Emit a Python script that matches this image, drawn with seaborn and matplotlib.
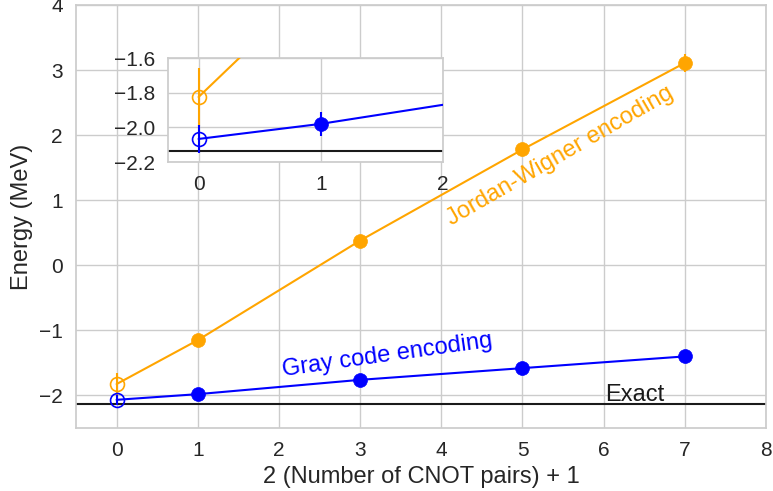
import matplotlib
matplotlib.use("Agg")
import matplotlib.pyplot as plt
import seaborn as sns
import numpy as np
import pandas as pd

x = [0, 1, 3, 5, 7]
jw_energy = [-1.825, -1.15, 0.38, 1.78, 3.11]
jw_err = [0.17, 0.10, 0.08, 0.08, 0.14]
gray_energy = [-2.067, -1.98, -1.76, -1.58, -1.40]
gray_err = [0.08, 0.07, 0.05, 0.05, 0.05]
exact = -2.135

sns.set_theme(style="whitegrid")
plt.rcParams['font.family'] = ['Liberation Sans', 'DejaVu Sans']

W, H = 773, 491
fig = plt.figure(figsize=(W / 100, H / 100), dpi=100)
ax = fig.add_axes([76 / W, 1 - 428 / H, (766 - 76) / W, (428 - 5) / H])
ins = fig.add_axes([168 / W, 1 - 162 / H, (443 - 168) / W, (162 - 58) / H])

df = pd.DataFrame({"x": x * 2,
                   "E": jw_energy + gray_energy,
                   "err": jw_err + gray_err,
                   "enc": ["JW"] * 5 + ["Gray"] * 5})
pal = {"JW": "orange", "Gray": "blue"}

def draw(a):
    for enc, c in pal.items():
        d = df[df.enc == enc]
        a.errorbar(d.x, d.E, yerr=d.err, fmt="none", ecolor=c, elinewidth=1.5, zorder=2)
        sns.lineplot(data=d, x="x", y="E", color=c, lw=1.5, ax=a, zorder=3)
        sns.scatterplot(data=d[d.x > 0], x="x", y="E", color=c, s=100, ax=a,
                        edgecolor=c, linewidth=0.5, zorder=4)
        a.plot(d.x.iloc[:1], d.E.iloc[:1], "o", mfc="none", mec=c, ms=10,
               mew=1.2, zorder=4)
    a.axhline(exact, color="k", lw=1.5, zorder=1)

draw(ax)
ax.set_xlim(-0.5, 8)
ax.set_ylim(-2.5, 4)
ax.set_xticks(range(0, 9))
ax.set_yticks(range(-2, 5))
ax.set_yticklabels(["\u22122", "\u22121", "0", "1", "2", "3", "4"])
ax.tick_params(labelsize=15)
ax.set_xlabel("2 (Number of CNOT pairs) + 1", fontsize=17)
ax.set_ylabel("Energy (MeV)", fontsize=17)
ax.text(5.47, 1.68, "Jordan-Wigner encoding", color="orange", fontsize=17,
        rotation=30, ha="center", va="center")
ax.text(3.34, -1.385, "Gray code encoding", color="blue", fontsize=17,
        rotation=8, ha="center", va="center")
ax.text(6.38, -2.09, "Exact", color="k", fontsize=17, ha="center", va="baseline")

draw(ins)
ins.set_xlim(-0.25, 2)
ins.set_ylim(-2.2, -1.6)
ins.set_xticks([0, 1, 2])
ins.set_yticks([-2.2, -2.0, -1.8, -1.6])
ins.set_yticklabels(["\u22122.2", "\u22122.0", "\u22121.8", "\u22121.6"])
ins.tick_params(labelsize=15)
ins.set_xlabel("")
ins.set_ylabel("")

fig.savefig("out.png", dpi=100)
